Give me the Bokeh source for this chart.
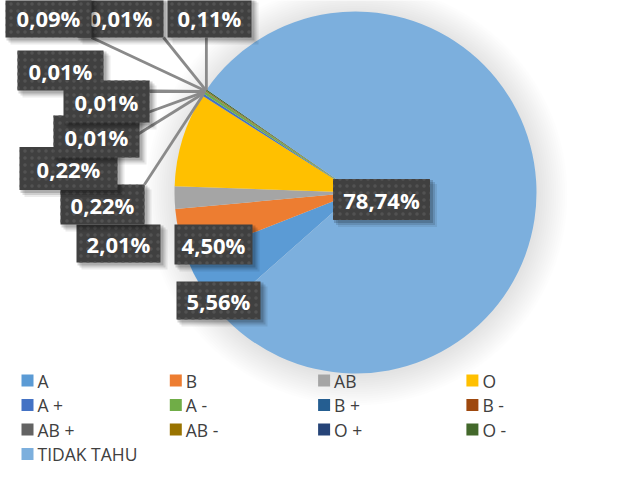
import numpy as np
from bokeh.plotting import figure
from bokeh.models import Range1d, ColumnDataSource
from bokeh.embed import file_html
from bokeh.resources import INLINE
from bokeh.core.properties import value

# ---------------- data ----------------
categories = ["A", "B", "AB", "O", "A +", "A -", "B +", "B -",
              "AB +", "AB -", "O +", "O -", "TIDAK TAHU"]
values = [5.56, 4.50, 2.01, 8.40, 0.22, 0.22, 0.01, 0.01,
          0.01, 0.09, 0.01, 0.11, 78.74]
label_texts = ["5,56%", "4,50%", "2,01%", "", "0,22%", "0,22%", "0,01%", "0,01%",
               "0,01%", "0,09%", "0,01%", "0,11%", "78,74%"]
colors = ["#5B9BD5", "#ED7D31", "#A5A5A5", "#FFC000", "#4472C4", "#70AD47",
          "#255E91", "#9E480E", "#636363", "#997300", "#264478", "#43682B",
          "#7CAFDD"]

# ---------------- layout (picture pixel coords) ----------------
W, H = 617, 483
CX, CY, R = 363, 200, 181
FIRST_ANGLE = 228.5          # clockwise from 12 o'clock, start of first slice
# label boxes: centre x, centre y, width, height (None = no label shown)
label_boxes = [(226, 308, 84, 38), (221, 252, 78, 40), (126, 251, 84, 38), None,
               (110, 212, 84, 40), (76, 176, 98, 43), (104, 144, 86, 42),
               (114, 109, 86, 42), (68, 78, 86, 40), (56, 25, 86, 40),
               (128, 25, 86, 40), (217, 25, 84, 40), (389, 207, 97, 41)]
draw_order = [0, 1, 2, 4, 5, 6, 8, 7, 10, 9, 11, 12]
leader_idx = [4, 5, 6, 7, 8, 9, 10, 11]


def Y(py):
    return H - py


p = figure(width=W - 16, height=H - 16, output_backend="svg", toolbar_location=None,
           x_range=Range1d(8, W - 8), y_range=Range1d(8, H - 8), min_border=0)
p.axis.visible = False
p.grid.visible = False
p.outline_line_color = None
p.background_fill_color = "white"
p.border_fill_color = "white"

# pie soft shadow
for k in range(14):
    p.circle(x=[CX + 1], y=[Y(CY + 2)], radius=R + 30 - k * 2.2, radius_units="screen",
             fill_color="black", fill_alpha=0.009, line_color=None)

# wedges
vals = np.array(values, dtype=float)
frac = vals / vals.sum()
ends = FIRST_ANGLE + np.cumsum(frac) * 360.0
starts = ends - frac * 360.0
src = ColumnDataSource(dict(
    start=np.radians(90.0 - ends), end=np.radians(90.0 - starts),
    color=colors, cat=categories))
p.wedge(x=CX, y=Y(CY), radius=R, radius_units="screen", start_angle="start",
        end_angle="end", fill_color="color", line_color=None, source=src)

# leader lines
mids = (starts + ends) / 2.0
for i in leader_idx:
    sx = CX + R * np.sin(np.radians(mids[i]))
    sy = CY - R * np.cos(np.radians(mids[i]))
    bx, by, bw, bh = label_boxes[i]
    ex = min(max(sx, bx - bw / 2), bx + bw / 2)
    ey = min(max(sy, by - bh / 2), by + bh / 2)
    p.line([sx, ex], [Y(sy), Y(ey)], line_color="#8A8A8A", line_width=2.8)

# label boxes
for i in draw_order:
    bx, by, bw, bh = label_boxes[i]
    for off, a in ((6, 0.08), (4, 0.12), (2, 0.16)):
        p.rect(x=bx + off, y=Y(by + off), width=bw + 2, height=bh + 2,
               fill_color="black", fill_alpha=a, line_color=None)
    p.rect(x=bx, y=Y(by), width=bw, height=bh, fill_color="#404040",
           line_color=None, hatch_pattern=".", hatch_color="#525252",
           hatch_scale=7, hatch_weight=1)
    p.text(x=[bx], y=[Y(by)], text=[label_texts[i]], text_color="white",
           text_font=value("Open Sans"), text_font_style="bold",
           text_font_size="22px", text_align="center", text_baseline="middle")

# legend
LEG_X0, LEG_DX, LEG_Y0, LEG_DY = 35, 148.3, 388, 24.5
lx = [LEG_X0 + (i % 4) * LEG_DX for i in range(len(categories))]
ly = [Y(LEG_Y0 + (i // 4) * LEG_DY) for i in range(len(categories))]
p.rect(x=lx, y=ly, width=12, height=12, fill_color=colors, line_color=None)
p.text(x=[v + 10 for v in lx], y=ly, text=categories, text_color="#404040",
       text_font=value("Open Sans"), text_font_size="17.5px",
       text_align="left", text_baseline="middle")

open("out.html", "w").write(file_html(p, INLINE))
